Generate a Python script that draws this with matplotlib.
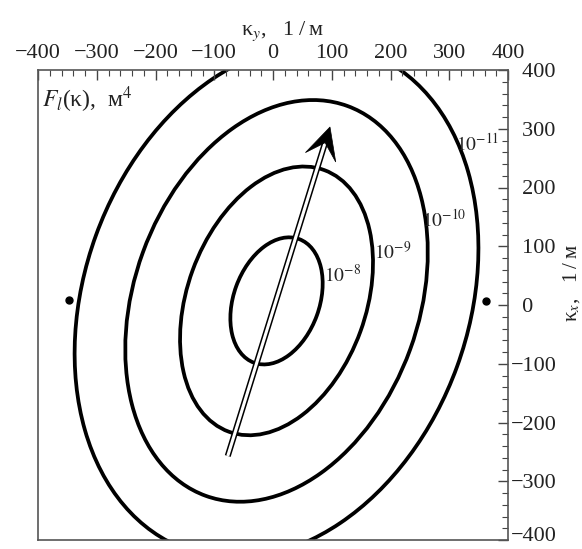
import numpy as np
import matplotlib
matplotlib.use("Agg")
import matplotlib.pyplot as plt
from matplotlib.patches import Ellipse, Polygon
from matplotlib.ticker import FuncFormatter
from matplotlib.transforms import ScaledTranslation

plt.rcParams['font.family'] = ['Liberation Serif', 'DejaVu Serif']
plt.rcParams['mathtext.fontset'] = 'stix'

# contour levels (powers of ten) and ellipse sizes, 1/m
level_exp = [-8, -9, -10, -11]
semi_major = [112, 237, 353, 450]
semi_minor = [73, 152, 242, 327]
center = (6, 7)
tilt_deg = 20

# level labels
label_x = [119, 203, 291, 349]
label_y = [51, 90, 145, 274]

# singular points on the kx axis
dot_x = [-347, 362]
dot_y = [8, 7]

# direction arrow
arrow_start = (-77, -257)
arrow_end = (97, 303)

ticks = [-400, -300, -200, -100, 0, 100, 200, 300, 400]

fig = plt.figure(figsize=(5.82, 5.49), dpi=100)
ax = fig.add_axes([38 / 582, 9 / 549, 470 / 582, 470 / 549])

for a, b in zip(semi_major, semi_minor):
    ax.add_patch(Ellipse(center, 2 * b, 2 * a, angle=-tilt_deg,
                         fill=False, ec='black', lw=2.7))

for e, x, y in zip(level_exp, label_x, label_y):
    ax.text(x, y, r'$10^{%d}$' % e, fontsize=14, ha='center', va='center',
            color='#222222')

ax.plot(dot_x, dot_y, 'o', color='black', ms=5)

# arrow: double-line shaft with notched head
p0 = np.array(arrow_start, float)
p1 = np.array(arrow_end, float)
d = (p1 - p0) / np.linalg.norm(p1 - p0)
n = np.array([-d[1], d[0]])
head_len, head_w, notch = 54, 27, 28
notch_pt = p1 - notch * d
ax.plot([p0[0], notch_pt[0]], [p0[1], notch_pt[1]], color='black', lw=4.4,
        solid_capstyle='butt', zorder=4)
ax.plot([p0[0], notch_pt[0]], [p0[1], notch_pt[1]], color='white', lw=2.2,
        solid_capstyle='butt', zorder=5)
head = [p1, p1 - head_len * d + head_w * n, notch_pt,
        p1 - head_len * d - head_w * n]
ax.add_patch(Polygon(head, closed=True, fc='black', ec='black', lw=0.5,
                     zorder=6))

ax.set_xlim(-400, 400)
ax.set_ylim(-400, 400)

ax.xaxis.tick_top()
ax.yaxis.tick_right()
ax.set_xticks(ticks)
ax.set_yticks(ticks)
ax.set_xticks(np.arange(-400, 401, 20), minor=True)
ax.set_yticks(np.arange(-400, 401, 20), minor=True)
ax.xaxis.set_major_formatter(FuncFormatter(
    lambda v, p: '\u2212%d' % -v if v < 0 else '%d' % v))
# right labels: digits line up, minus sign hangs to the left
ax.yaxis.set_major_formatter(FuncFormatter(
    lambda v, p: '\u2212%d' % -v if v < 0 else '\u2002%d' % v))
ax.tick_params(which='both', direction='in', colors='#444444',
               labelcolor='#222222', labelsize=16)
ax.tick_params(which='major', length=7, width=1)
ax.tick_params(which='minor', length=4, width=0.8)
ax.tick_params(axis='x', pad=5)
ax.tick_params(axis='y', pad=2)
for s in ax.spines.values():
    s.set_color('#555555')
    s.set_linewidth(1.2)

# lift the lowest right label a little so it stays inside the image
low = ax.yaxis.get_major_ticks()[0].label2
low.set_transform(low.get_transform() +
                  ScaledTranslation(0, 4 / 72, fig.dpi_scale_trans))

ax.xaxis.set_label_position('top')
ax.set_xlabel('κ$_y$,\u2002 1\u2009/\u2009м', fontsize=16, color='#222222')
ax.xaxis.set_label_coords(0.52, 1.074)
ax.yaxis.set_label_position('right')
ax.set_ylabel('κ$_x$,\u2002 1\u2009/\u2009м', fontsize=15, color='#222222',
              rotation=90)
ax.yaxis.set_label_coords(1.113, 0.547)

ax.text(0.009, 0.97, '$F_l$(κ),\u2002м$^4$', transform=ax.transAxes,
        fontsize=17, ha='left', va='top', color='#222222')

fig.savefig('out.png', dpi=100)
